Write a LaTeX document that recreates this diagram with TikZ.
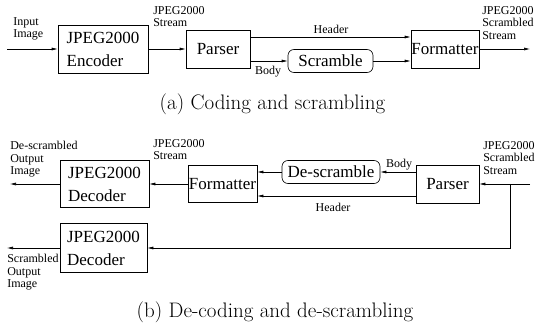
\documentclass[tikz,border=0pt]{standalone}
\usepackage{fontspec}
\newfontfamily\tms{Liberation Serif}
\usetikzlibrary{arrows.meta}

\tikzset{
  blk/.style={draw, inner sep=0pt, font=\tms\fontsize{17}{23}\selectfont, align=left},
  rblk/.style={blk, rounded corners=6pt},
  lbl/.style={inner sep=0pt, font=\tms\fontsize{12}{12.5}\selectfont, align=left},
  arr/.style={-{Latex[length=6pt,width=3pt]}},
  capt/.style={inner sep=0pt, anchor=base, font=\fontsize{21}{25}\selectfont}
}

\begin{document}
\begin{tikzpicture}[x=1pt,y=-1pt,line width=0.6pt]
	\useasboundingbox (0,0) rectangle (536,331);
	% (a) coding and scrambling
	\node[blk,minimum width=90pt,minimum height=48pt] (enc) at (103,49) {JPEG2000\\Encoder};
	\node[blk,minimum width=64pt,minimum height=38pt] (par) at (218,49) {Parser};
	\node[rblk,minimum width=85pt,minimum height=23pt] (scr) at (330.5,61) {Scramble};
	\node[blk,minimum width=68pt,minimum height=38pt] (fmt) at (445,49) {Formatter};
	\coordinate (in) at (7,49);
	\coordinate (out) at (530,49);
	\draw[arr] (in) -- (enc);
	\draw[arr] (enc) -- (par);
	\draw[arr] ([yshift=12pt]par.east) -- ([yshift=12pt]fmt.west);
	\draw[arr] ([yshift=-12pt]par.east) -- (scr);
	\draw[arr] (scr) -- ([yshift=-12pt]fmt.west);
	\draw[arr] (fmt) -- (out);
	\node[lbl,anchor=north west] (inl) at (13,17) {Input\\Image};
	\node[lbl,anchor=north west] (strl) at (153,6) {JPEG2000\\Stream};
	\node[lbl] (hdl) at (331,29) {Header};
	\node[lbl] (bdl) at (268,72) {Body};
	\node[lbl,anchor=north west] (outl) at (482,6) {JPEG2000\\Scrambled\\Stream};
	\node[capt] (capa) at (272.5,110) {(a) Coding and scrambling};
	% (b) decoding and descrambling
	\node[blk,minimum width=89pt,minimum height=47pt] (dec) at (104.5,184) {JPEG2000\\Decoder};
	\node[blk,minimum width=69pt,minimum height=37pt] (fmtb) at (222.5,184) {Formatter};
	\node[rblk,minimum width=98pt,minimum height=23pt] (dscr) at (331,172) {De-scramble};
	\node[blk,minimum width=63pt,minimum height=38pt] (parb) at (447.5,184) {Parser};
	\node[blk,minimum width=87pt,minimum height=49pt] (decb) at (103.5,248) {JPEG2000\\Decoder};
	\coordinate (inb) at (530,184);
	\coordinate (br) at (510,184);
	\coordinate (outa) at (10,184);
	\coordinate (outb) at (7,248);
	\draw[arr] (inb) -- (parb);
	\draw[arr] ([yshift=12pt]parb.west) -- (dscr);
	\draw[arr] (dscr) -- ([yshift=12pt]fmtb.east);
	\draw[arr] ([yshift=-12pt]parb.west) -- ([yshift=-12pt]fmtb.east);
	\draw[arr] (fmtb) -- (dec);
	\draw[arr] (dec) -- (outa);
	\draw[arr] (br) |- (decb);
	\draw[arr] (decb) -- (outb);
	\node[lbl,anchor=north west] (dsl) at (10,141) {De-scrambled\\Output\\Image};
	\node[lbl,anchor=north west] (strb) at (153,139) {JPEG2000\\Stream};
	\node[lbl] (bdb) at (399,165) {Body};
	\node[lbl] (hdb) at (333,207) {Header};
	\node[lbl,anchor=north west] (inbl) at (483,141) {JPEG2000\\Scrambled\\Stream};
	\node[lbl,anchor=north west] (scl) at (7,254) {Scrambled\\Output\\Image};
	\node[capt] (capb) at (275,318) {(b) De-coding and de-scrambling};
\end{tikzpicture}
\end{document}
